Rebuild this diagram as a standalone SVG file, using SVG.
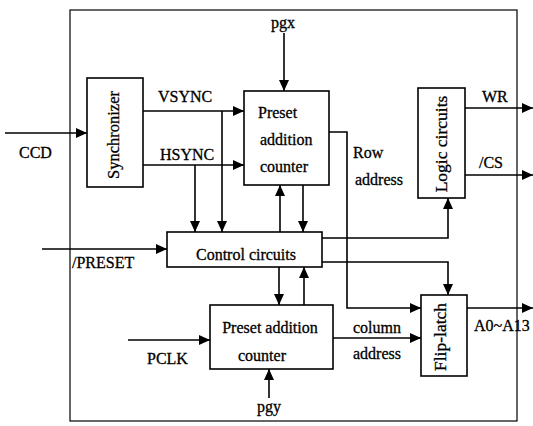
<svg xmlns="http://www.w3.org/2000/svg" width="533" height="426" viewBox="0 0 533 426">
  <style>
    .box { fill: #fff; stroke: #000; stroke-width: 1.6; }
    .frame { fill: none; stroke: #000; stroke-width: 1.2; }
    .wire { fill: none; stroke: #000; stroke-width: 1.6; }
    .arr { marker-end: url(#ah); }
    text { font-family: "Liberation Serif", "Times New Roman", serif; font-size: 16px; fill: #000; stroke: #000; stroke-width: 0.3; }
    .c { text-anchor: middle; }
    .v { font-size: 17.5px; }
  </style>
  <defs>
    <marker id="ah" markerWidth="12" markerHeight="10" refX="11" refY="5" orient="auto" markerUnits="userSpaceOnUse">
      <path d="M0,0 L11,5 L0,10 Z" fill="#000"/>
    </marker>
  </defs>

  <rect class="frame" x="70" y="10" width="447" height="411"/>

  <g id="connectors">
    <!-- external inputs -->
    <path class="wire arr" d="M5,133 H87"/>
    <path class="wire arr" d="M284,33 V91"/>
    <path class="wire arr" d="M42,249 H167"/>
    <path class="wire arr" d="M128,340 H210"/>
    <path class="wire arr" d="M269,398 V369"/>
    <!-- sync outputs -->
    <path class="wire arr" d="M143,111 H244"/>
    <path class="wire arr" d="M143,165 H244"/>
    <path class="wire arr" d="M222,111 V232"/>
    <path class="wire arr" d="M195,165 V232"/>
    <!-- counter / control links -->
    <path class="wire arr" d="M280,232 V185"/>
    <path class="wire arr" d="M303,185 V232"/>
    <path class="wire arr" d="M279,267 V305"/>
    <path class="wire arr" d="M304,305 V267"/>
    <!-- control to logic and latch -->
    <path class="wire arr" d="M322,238 H448 V198"/>
    <path class="wire arr" d="M322,262 H448 V295"/>
    <!-- addresses -->
    <path class="wire arr" d="M329,132 H347 V308 H421"/>
    <path class="wire arr" d="M333,338 H421"/>
    <!-- outputs -->
    <path class="wire arr" d="M465,108 H533"/>
    <path class="wire arr" d="M465,175 H533"/>
    <path class="wire arr" d="M467,308 H533"/>
  </g>

  <g id="synchronizer">
    <rect class="box" x="87" y="78" width="56" height="109"/>
    <text class="c" style="font-size:16.5px" transform="translate(119,135) rotate(-90)">Synchronizer</text>
  </g>

  <g id="counter-x">
    <rect class="box" x="244" y="91" width="85" height="94"/>
    <text x="258" y="118">Preset</text>
    <text x="260" y="145">addition</text>
    <text x="260" y="172">counter</text>
  </g>

  <g id="logic">
    <rect class="box" x="418" y="88" width="47" height="110"/>
    <text class="c v" transform="translate(447,144) rotate(-90)">Logic circuits</text>
  </g>

  <g id="control">
    <rect class="box" x="167" y="232" width="155" height="35"/>
    <text class="c" x="246" y="260">Control circuits</text>
  </g>

  <g id="counter-y">
    <rect class="box" x="210" y="305" width="123" height="64"/>
    <text class="c" x="270" y="333">Preset addition</text>
    <text x="238" y="361">counter</text>
  </g>

  <g id="flip-latch">
    <rect class="box" x="421" y="295" width="46" height="81"/>
    <text class="c v" transform="translate(446,337) rotate(-90)">Flip-latch</text>
  </g>

  <g id="labels">
    <text x="19" y="158">CCD</text>
    <text x="158" y="102">VSYNC</text>
    <text x="160" y="160">HSYNC</text>
    <text class="c" x="283" y="28">pgx</text>
    <text x="353" y="158">Row</text>
    <text x="355" y="185">address</text>
    <text x="482" y="102">WR</text>
    <text x="479" y="168">/CS</text>
    <text x="72" y="268">/PRESET</text>
    <text x="147" y="364">PCLK</text>
    <text x="353" y="333">column</text>
    <text x="353" y="359">address</text>
    <text x="474" y="331">A0~A13</text>
    <text class="c" x="269" y="412">pgy</text>
  </g>
</svg>
